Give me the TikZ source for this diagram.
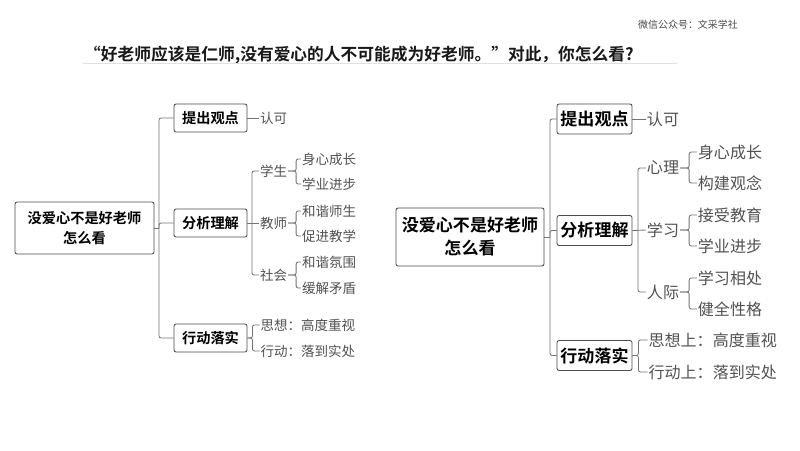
\documentclass[tikz,border=0pt]{standalone}
\usepackage{fontspec}
\setmainfont{Noto Sans CJK SC}[BoldFont=* Bold]
\usepackage{tikz}

\tikzset{
  rootbox/.style={draw=black!70,line width=0.6pt,rounded corners=1.5pt,align=center,font=\bfseries},
  headbox/.style={draw=black!70,line width=0.6pt,rounded corners=1.5pt,inner sep=0pt,font=\bfseries},
  leaf/.style={text=black!68,inner xsep=0.6pt,inner ysep=0pt},
  link/.style={draw=black!55,line width=0.6pt,rounded corners=1.5pt},
}
\newcommand{\smalltxt}{\fontsize{9.6pt}{12pt}\selectfont}
\newcommand{\smallhead}{\fontsize{10.1pt}{14pt}\selectfont}
\newcommand{\bigtxt}{\fontsize{11.4pt}{14pt}\selectfont}
\newcommand{\bighead}{\fontsize{12.1pt}{16.4pt}\selectfont}

\begin{document}
\begin{tikzpicture}[x=0.025cm,y=-0.025cm]
\useasboundingbox (0,0) rectangle (800,450);
\fill[white] (0,0) rectangle (800,450);

% title
\node[text=black!70,inner sep=0pt,font=\fontsize{7.1pt}{9pt}\selectfont] (source) at (688,25) {微信公众号：文采学社};
\node[text=black!90,inner sep=0pt,font=\fontsize{11.9pt}{15pt}\selectfont\bfseries] (title) at (359,55.5) {“好老师应该是仁师,没有爱心的人不可能成为好老师。”对此，你怎么看?};
\coordinate (ruleA) at (83,63.5);
\coordinate (ruleB) at (677,63.5);
\draw[black!12,line width=0.5pt] (ruleA) -- (ruleB);

% left map
\node[rootbox,minimum width=139*0.025cm,minimum height=52*0.025cm,font=\smallhead\bfseries] (rootL) at (84.5,228) {没爱心不是好老师\\怎么看};
\node[headbox,minimum width=73*0.025cm,minimum height=28*0.025cm,font=\smallhead\bfseries] (viewL) at (210.5,118) {提出观点};
\node[headbox,minimum width=73*0.025cm,minimum height=28*0.025cm,font=\smallhead\bfseries] (readL) at (210.5,223) {分析理解};
\node[headbox,minimum width=73*0.025cm,minimum height=28*0.025cm,font=\smallhead\bfseries] (doL) at (210.5,338) {行动落实};

\node[leaf,font=\smalltxt] (okL) at (273.5,118) {认可};
\node[leaf,font=\smalltxt] (aL) at (273.5,171) {学生};
\node[leaf,font=\smalltxt] (bL) at (273.5,223) {教师};
\node[leaf,font=\smalltxt] (cL) at (273.5,275) {社会};
\node[leaf,font=\smalltxt] (a1L) at (329,159) {身心成长};
\node[leaf,font=\smalltxt] (a2L) at (329,184) {学业进步};
\node[leaf,font=\smalltxt] (b1L) at (329,211) {和谐师生};
\node[leaf,font=\smalltxt] (b2L) at (329,236) {促进教学};
\node[leaf,font=\smalltxt] (c1L) at (329,262) {和谐氛围};
\node[leaf,font=\smalltxt] (c2L) at (329,288) {缓解矛盾};
\node[leaf,font=\smalltxt,anchor=west] (d1L) at (259.5,325) {思想：高度重视};
\node[leaf,font=\smalltxt,anchor=west] (d2L) at (259.5,351) {行动：落到实处};

\coordinate (trunkL) at (159,228);
\draw[link] (rootL.east) -- (trunkL);
\foreach \to in {viewL,readL,doL}
  \draw[link] (trunkL) |- (\to.west);
\draw[link] (viewL.east) -- (okL.west);
\draw[link] (readL.east) -- (bL.west);
\coordinate (armL) at (252,223);
\foreach \to in {aL,cL}
  \draw[link] (armL) |- (\to.west);
\foreach \from/\upper/\lower in {aL/a1L/a2L,bL/b1L/b2L,cL/c1L/c2L} {
  \draw[link] (\from.east) -- ++(8,0) |- (\upper.west);
  \draw[link] (\from.east) -- ++(8,0) |- (\lower.west);
}
\draw[link] (doL.east) -- ++(5,0) |- (d1L.west);
\draw[link] (doL.east) -- ++(5,0) |- (d2L.west);

% right map
\node[rootbox,minimum width=148*0.025cm,minimum height=58*0.025cm,font=\bighead\bfseries] (rootR) at (470,237) {没爱心不是好老师\\怎么看};
\node[headbox,minimum width=75*0.025cm,minimum height=30*0.025cm,font=\bighead\bfseries] (viewR) at (594.5,119) {提出观点};
\node[headbox,minimum width=75*0.025cm,minimum height=30*0.025cm,font=\bighead\bfseries] (readR) at (594.5,230.5) {分析理解};
\node[headbox,minimum width=75*0.025cm,minimum height=30*0.025cm,font=\bighead\bfseries] (doR) at (594.5,355.5) {行动落实};

\node[leaf,font=\bigtxt] (okR) at (663,119) {认可};
\node[leaf,font=\bigtxt] (aR) at (663,168) {心理};
\node[leaf,font=\bigtxt] (bR) at (663,230) {学习};
\node[leaf,font=\bigtxt] (cR) at (663,292) {人际};
\node[leaf,font=\bigtxt] (a1R) at (730,152) {身心成长};
\node[leaf,font=\bigtxt] (a2R) at (730,183) {构建观念};
\node[leaf,font=\bigtxt] (b1R) at (730,215) {接受教育};
\node[leaf,font=\bigtxt] (b2R) at (730,246) {学业进步};
\node[leaf,font=\bigtxt] (c1R) at (730,278) {学习相处};
\node[leaf,font=\bigtxt] (c2R) at (730,309) {健全性格};
\node[leaf,font=\bigtxt,anchor=west] (d1R) at (647.5,340) {思想上：高度重视};
\node[leaf,font=\bigtxt,anchor=west] (d2R) at (647.5,372) {行动上：落到实处};

\coordinate (trunkR) at (550,237);
\draw[link] (rootR.east) -- (trunkR);
\foreach \to in {viewR,readR,doR}
  \draw[link] (trunkR) |- (\to.west);
\draw[link] (viewR.east) -- (okR.west);
\draw[link] (readR.east) -- (bR.west);
\coordinate (armR) at (638,230.5);
\foreach \to in {aR,cR}
  \draw[link] (armR) |- (\to.west);
\foreach \from/\upper/\lower in {aR/a1R/a2R,bR/b1R/b2R,cR/c1R/c2R} {
  \draw[link] (\from.east) -- ++(9,0) |- (\upper.west);
  \draw[link] (\from.east) -- ++(9,0) |- (\lower.west);
}
\draw[link] (doR.east) -- ++(6,0) |- (d1R.west);
\draw[link] (doR.east) -- ++(6,0) |- (d2R.west);
\end{tikzpicture}
\end{document}
